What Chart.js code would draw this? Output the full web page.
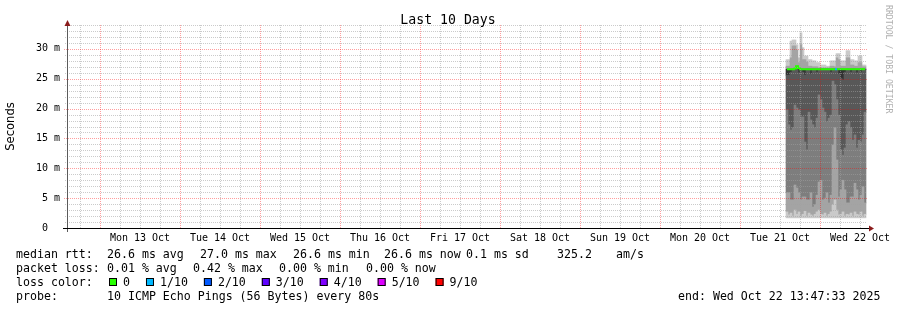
<!DOCTYPE html>
<html>
<head>
<meta charset="utf-8">
<script src="https://cdn.jsdelivr.net/npm/chart.js@4/dist/chart.umd.min.js"></script>
<style>
html, body { margin: 0; padding: 0; background: #fff; }
canvas { display: block; }
</style>
</head>
<body>
<canvas id="c" width="897" height="310"></canvas>
<script>
// x values: hours since Mon 13 Oct 00:00, one sample per graph column
var times = [206.1, 206.7, 207.3, 207.9, 208.5, 209.1, 209.7, 210.3, 210.9, 211.5,
             212.1, 212.7, 213.3, 213.9, 214.5, 215.1, 215.7, 216.3, 216.9, 217.5,
             218.1, 218.7, 219.3, 219.9, 220.5, 221.1, 221.7, 222.3, 222.9, 223.5,
             224.1, 224.7, 225.3, 225.9, 226.5, 227.1, 227.7, 228.3, 228.9, 229.5];

// smoke band edges in ms, bottom to top
var smokeMin  = [1.7, 1.7, 1.7, 1.7, 1.7, 1.7, 1.7, 1.7, 1.7, 1.7,
                 1.7, 1.7, 1.7, 1.7, 1.7, 1.7, 1.7, 1.7, 1.7, 1.7,
                 1.7, 1.7, 1.7, 1.7, 1.7, 1.7, 1.7, 1.7, 1.7, 1.7,
                 1.7, 1.7, 1.7, 1.7, 1.7, 1.7, 1.7, 1.7, 1.7, 1.7];
var smokeP2   = [2.7, 2.2, 2.5, 2.0, 3.0, 2.3, 2.7, 2.0, 2.3, 2.8,
                 2.0, 2.5, 2.2, 2.0, 2.3, 2.7, 3.0, 2.3, 2.2, 2.5,
                 2.0, 2.3, 2.7, 3.9, 4.7, 3.0, 2.2, 2.3, 2.7, 2.0,
                 2.3, 2.2, 2.5, 2.0, 2.7, 2.3, 2.2, 2.7, 2.0, 2.3];
var smokeLow  = [5.9, 5.9, 4.7, 4.7, 7.2, 6.7, 5.9, 4.7, 5.2, 5.2,
                 4.7, 4.7, 5.9, 3.5, 3.9, 5.5, 7.7, 8.0, 4.7, 5.0,
                 5.9, 4.2, 5.5, 13.9, 16.8, 11.4, 5.2, 6.4, 8.0, 6.4,
                 4.2, 4.2, 5.2, 5.2, 7.5, 6.4, 4.7, 5.5, 6.9, 4.2];
var smokeMid  = [19.8, 17.3, 16.4, 16.8, 20.6, 20.1, 19.8, 18.6, 18.6, 14.4,
                 13.1, 19.4, 18.1, 17.3, 16.8, 18.4, 22.3, 21.5, 20.1, 19.4,
                 17.8, 18.4, 18.9, 24.6, 24.0, 21.5, 18.9, 13.1, 12.2, 13.4,
                 17.3, 17.8, 16.8, 14.7, 15.6, 13.4, 14.7, 14.4, 15.6, 19.4];
var smokeNear = [25.6, 25.6, 26.1, 26.5, 26.6, 26.6, 26.0, 26.6, 26.1, 25.6,
                 26.6, 26.6, 25.8, 26.6, 26.6, 26.1, 26.6, 26.6, 26.6, 26.6,
                 26.6, 26.6, 26.1, 26.6, 26.6, 26.6, 25.8, 25.1, 24.8, 26.1,
                 26.6, 26.6, 26.1, 26.6, 26.6, 26.0, 26.6, 26.1, 26.6, 26.6];
var median    = [26.6, 26.6, 26.6, 26.6, 26.7, 27.1, 26.8, 26.6, 26.6, 26.6,
                 26.6, 26.6, 26.6, 26.6, 26.6, 26.6, 26.6, 26.6, 26.6, 26.6,
                 26.6, 26.6, 26.6, 26.6, 26.6, 26.6, 26.6, 26.6, 26.6, 26.6,
                 26.6, 26.6, 26.6, 26.6, 26.6, 26.6, 26.6, 26.6, 26.6, 26.6];
var smokeUp   = [27.1, 27.1, 28.5, 30.5, 30.5, 29.8, 27.7, 30.7, 28.2, 28.2,
                 27.8, 27.1, 27.1, 27.0, 27.0, 27.0, 26.8, 26.8, 26.8, 26.8,
                 26.8, 26.8, 27.1, 27.1, 27.0, 28.5, 28.2, 27.1, 27.1, 27.1,
                 28.5, 28.5, 27.3, 27.3, 27.1, 27.1, 27.7, 27.7, 27.0, 27.0];
var smokeMax  = [28.2, 28.2, 31.3, 31.5, 31.5, 30.7, 28.5, 32.7, 30.2, 28.8,
                 28.8, 28.2, 28.2, 28.0, 28.0, 27.7, 27.7, 27.3, 27.3, 27.3,
                 27.1, 27.1, 28.0, 28.0, 28.0, 29.2, 29.2, 28.0, 28.0, 28.0,
                 29.7, 29.7, 28.2, 28.2, 28.0, 28.0, 28.8, 28.8, 27.3, 27.3];
// loss class per column (index into lossColors)
var lossIdx   = [0, 0, 0, 0, 0, 0, 0, 0, 0, 0,
                 0, 0, 0, 0, 0, 0, 0, 0, 0, 0,
                 0, 0, 0, 0, 0, 1, 0, 0, 0, 0,
                 0, 0, 0, 0, 0, 0, 0, 0, 0, 0];

var dayLabels = ['Mon 13 Oct', 'Tue 14 Oct', 'Wed 15 Oct', 'Thu 16 Oct', 'Fri 17 Oct',
                 'Sat 18 Oct', 'Sun 19 Oct', 'Mon 20 Oct', 'Tue 21 Oct', 'Wed 22 Oct'];
var yTickLabels = ['0  ', '5 m', '10 m', '15 m', '20 m', '25 m', '30 m'];

var lossColors = ['#26ff00', '#00b8ff', '#0059ff', '#5e00ff', '#7e00ff', '#dd00ff', '#ff0000'];
var lossLabels = ['0', '1/10', '2/10', '3/10', '4/10', '5/10', '9/10'];

var rttStats  = ['26.6 ms avg', '27.0 ms max', '26.6 ms min', '26.6 ms now', '0.1 ms sd', '325.2', 'am/s'];
var lossStats = ['0.01 % avg', '0.42 % max', '0.00 % min', '0.00 % now'];
var probeText = '10 ICMP Echo Pings (56 Bytes) every 80s';
var endText   = 'end: Wed Oct 22 13:47:33 2025';

var mono = '"DejaVu Sans Mono", monospace';
var minorGrid = 'rgba(160,160,160,0.55)';
var majorGrid = 'rgba(255,0,0,0.38)';

function band(lo, hi, color) {
  return {
    type: 'bar',
    data: times.map(function(t, i) { return { x: t, y: [lo[i], hi[i]] }; }),
    backgroundColor: color,
    borderWidth: 0,
    grouped: false,
    barPercentage: 1,
    categoryPercentage: 1,
    order: 1
  };
}

var datasets = [
  band(smokeMin, smokeP2, '#cacaca'),
  band(smokeP2, smokeLow, '#a4a4a4'),
  band(smokeLow, smokeMid, '#7e7e7e'),
  band(smokeMid, smokeNear, '#585858'),
  band(smokeNear, median, '#323232'),
  band(median, smokeUp, '#a4a4a4'),
  band(smokeUp, smokeMax, '#cacaca'),
  {
    type: 'line',
    data: times.map(function(t, i) { return { x: t, y: median[i] }; }),
    borderColor: lossColors[0],
    borderWidth: 2,
    pointRadius: 0,
    stepped: 'middle',
    segment: {
      borderColor: function(ctx) { return lossColors[lossIdx[ctx.p1DataIndex]]; }
    },
    order: 0
  }
];

var xGrid = [];
for (var h = -6; h <= 228; h += 6) xGrid.push(h);
var yGrid = [];
for (var m = 0; m <= 34; m++) yGrid.push(m);

// dotted rrdtool style grid, drawn from the scales' ticks over the smoke
var rrdGrid = {
  id: 'rrdGrid',
  afterDatasetsDraw: function(chart) {
    var ctx = chart.ctx, a = chart.chartArea;
    var xs = chart.scales.x, ys = chart.scales.y;
    ctx.save();
    ctx.lineWidth = 1;
    ctx.setLineDash([1, 1]);
    xs.ticks.forEach(function(t) {
      var px = Math.round(xs.getPixelForValue(t.value)) + 0.5;
      ctx.strokeStyle = t.value % 24 === 0 ? majorGrid : minorGrid;
      ctx.beginPath();
      ctx.moveTo(px, a.bottom);
      ctx.lineTo(px, a.top);
      ctx.stroke();
    });
    ys.ticks.forEach(function(t) {
      var py = Math.round(ys.getPixelForValue(t.value)) + 0.5;
      var major = t.value % 5 === 0;
      ctx.strokeStyle = major ? majorGrid : minorGrid;
      ctx.beginPath();
      ctx.moveTo(a.left - (major ? 3 : 2), py);
      ctx.lineTo(a.right, py);
      ctx.stroke();
    });
    ctx.restore();
  }
};

// everything rrdtool draws around the graph
var rrdText = {
  id: 'rrdText',
  beforeDraw: function(chart) {
    var ctx = chart.ctx;
    ctx.save();
    ctx.fillStyle = '#fff';
    ctx.fillRect(0, 0, chart.width, chart.height);
    ctx.restore();
  },
  afterDraw: function(chart) {
    var ctx = chart.ctx, a = chart.chartArea;
    ctx.save();

    // axes
    ctx.lineWidth = 1;
    ctx.strokeStyle = '#5a5a5a';
    ctx.beginPath();
    ctx.moveTo(a.left + 0.5, a.bottom + 4);
    ctx.lineTo(a.left + 0.5, a.top + 1);
    ctx.stroke();
    ctx.strokeStyle = '#000';
    ctx.beginPath();
    ctx.moveTo(a.left - 4, a.bottom + 0.5);
    ctx.lineTo(a.right + 2, a.bottom + 0.5);
    ctx.stroke();

    // arrow heads
    ctx.fillStyle = '#8b1c1c';
    ctx.beginPath();
    ctx.moveTo(a.left + 0.5, a.top - 5);
    ctx.lineTo(a.left - 2.5, a.top + 1);
    ctx.lineTo(a.left + 3.5, a.top + 1);
    ctx.closePath();
    ctx.fill();
    ctx.beginPath();
    ctx.moveTo(a.right + 7, a.bottom + 0.5);
    ctx.lineTo(a.right + 2, a.bottom - 2.5);
    ctx.lineTo(a.right + 2, a.bottom + 3.5);
    ctx.closePath();
    ctx.fill();

    // title
    ctx.fillStyle = '#000';
    ctx.font = '13.2px ' + mono;
    ctx.textAlign = 'center';
    ctx.textBaseline = 'alphabetic';
    ctx.fillText('Last 10 Days', 448, 24);

    // y axis title
    ctx.save();
    ctx.translate(11, (a.top + a.bottom) / 2);
    ctx.rotate(-Math.PI / 2);
    ctx.font = '11.6px "DejaVu Sans", sans-serif';
    ctx.textBaseline = 'middle';
    ctx.fillText('Seconds', 0, 0);
    ctx.restore();

    // watermark
    ctx.save();
    ctx.translate(888, 5);
    ctx.rotate(Math.PI / 2);
    ctx.font = '8.2px ' + mono;
    ctx.fillStyle = '#b0b0b0';
    ctx.textAlign = 'left';
    ctx.textBaseline = 'middle';
    ctx.fillText('RRDTOOL / TOBI OETIKER', 0, 0);
    ctx.restore();

    // legend block
    ctx.font = '11.6px ' + mono;
    ctx.textAlign = 'left';
    ctx.textBaseline = 'alphabetic';
    ctx.fillStyle = '#000';
    ctx.fillText('median rtt:', 16, 258);
    var rttX = [107, 200, 293, 384, 466, 557, 616];
    rttStats.forEach(function(s, i) { ctx.fillText(s, rttX[i], 258); });

    ctx.fillText('packet loss:', 16, 272);
    var lossX = [107, 193, 279, 366];
    lossStats.forEach(function(s, i) { ctx.fillText(s, lossX[i], 272); });

    ctx.fillText('loss color:', 16, 286);
    var bx = 109;
    lossLabels.forEach(function(lbl, i) {
      ctx.fillStyle = lossColors[i];
      ctx.fillRect(bx, 278, 8, 8);
      ctx.strokeStyle = '#000';
      ctx.strokeRect(bx + 0.5, 278.5, 7, 7);
      ctx.fillStyle = '#000';
      ctx.fillText(lbl, bx + 14, 286);
      bx += 14 + ctx.measureText(lbl).width + 16;
    });

    ctx.fillText('probe:', 16, 300);
    ctx.fillText(probeText, 107, 300);
    ctx.fillText(endText, 678, 300);

    ctx.restore();
  }
};

new Chart(document.getElementById('c'), {
  type: 'bar',
  data: { datasets: datasets },
  options: {
    responsive: false,
    animation: false,
    devicePixelRatio: 1,
    layout: { padding: { top: 25, right: 30, left: 0, bottom: 0 } },
    plugins: {
      legend: { display: false },
      tooltip: { enabled: false },
      title: { display: false }
    },
    scales: {
      x: {
        type: 'linear',
        min: -9.9,
        max: 230.1,
        offset: false,
        afterBuildTicks: function(s) { s.ticks = xGrid.map(function(v) { return { value: v }; }); },
        afterFit: function(s) { s.height = 82; },
        grid: { display: false, drawTicks: false },
        border: { display: false },
        ticks: {
          autoSkip: false,
          maxRotation: 0,
          minRotation: 0,
          padding: 4,
          color: '#000',
          font: { family: 'DejaVu Sans Mono', size: 10 },
          callback: function(v) {
            return (((v % 24) + 24) % 24 === 12) ? dayLabels[(v - 12) / 24] : '';
          }
        }
      },
      y: {
        min: 0,
        max: 34,
        afterBuildTicks: function(s) { s.ticks = yGrid.map(function(v) { return { value: v }; }); },
        afterFit: function(s) { s.width = 67; },
        grid: { display: false, drawTicks: false },
        border: { display: false },
        ticks: {
          autoSkip: false,
          padding: 7,
          color: '#000',
          font: { family: 'DejaVu Sans Mono', size: 10 },
          callback: function(v) { return v % 5 === 0 ? yTickLabels[v / 5] : ''; }
        }
      }
    }
  },
  plugins: [rrdGrid, rrdText]
});
</script>
</body>
</html>
